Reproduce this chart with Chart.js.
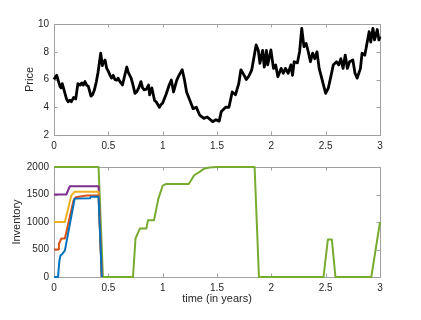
<!DOCTYPE html>
<html>
<head>
<meta charset="utf-8">
<script src="https://cdn.jsdelivr.net/npm/chart.js@4"></script>
<style>
  html, body { margin: 0; padding: 0; background: #fff; }
  #wrap { position: relative; width: 421px; height: 320px; }
  #price-wrap { position: absolute; left: 0; top: 0; width: 421px; height: 150px; }
  #inv-wrap { position: absolute; left: 0; top: 150px; width: 421px; height: 170px; }
</style>
</head>
<body>
<div id="wrap">
  <div id="price-wrap"><canvas id="price-chart" width="421" height="150"></canvas></div>
  <div id="inv-wrap"><canvas id="inv-chart" width="421" height="170"></canvas></div>
</div>
<script>
// price path (time in years, price)
var priceT = [0, 0.015, 0.025, 0.04, 0.055, 0.065, 0.076, 0.094, 0.115, 0.13, 0.145, 0.16, 0.18, 0.2, 0.22, 0.24, 0.255, 0.27, 0.285, 0.3,
    0.316, 0.34, 0.355, 0.37, 0.39, 0.405, 0.43, 0.445, 0.454, 0.47, 0.485, 0.5, 0.516, 0.53, 0.545, 0.56, 0.577, 0.59, 0.607, 0.63,
    0.654, 0.67, 0.68, 0.69, 0.71, 0.73, 0.745, 0.76, 0.78, 0.8, 0.815, 0.83, 0.85, 0.87, 0.88, 0.9, 0.925, 0.94, 0.955, 0.97,
    0.985, 1.0, 1.03, 1.06, 1.08, 1.1, 1.13, 1.15, 1.18, 1.2, 1.22, 1.25, 1.28, 1.31, 1.34, 1.38, 1.41, 1.46, 1.49, 1.52,
    1.54, 1.58, 1.61, 1.64, 1.67, 1.7, 1.72, 1.75, 1.77, 1.79, 1.82, 1.86, 1.88, 1.895, 1.92, 1.935, 1.955, 1.966, 1.996, 2.02,
    2.04, 2.06, 2.09, 2.11, 2.13, 2.155, 2.18, 2.195, 2.21, 2.24, 2.26, 2.28, 2.3, 2.32, 2.34, 2.36, 2.38, 2.4, 2.42, 2.44,
    2.46, 2.48, 2.5, 2.525, 2.55, 2.57, 2.6, 2.62, 2.64, 2.66, 2.68, 2.7, 2.72, 2.75, 2.77, 2.79, 2.82, 2.835, 2.86, 2.88,
    2.9, 2.915, 2.935, 2.95, 2.975, 2.99, 3.0];
var priceV = [6.0, 6.2, 6.3, 5.9, 5.5, 5.4, 5.7, 5.2, 4.6, 4.4, 4.5, 4.4, 4.7, 4.6, 5.7, 5.6, 5.75, 5.6, 5.85, 5.6,
    5.5, 4.8, 4.9, 5.2, 5.85, 6.5, 7.9, 7.0, 7.2, 7.4, 6.8, 6.6, 6.3, 6.1, 6.3, 6.0, 5.95, 6.1, 5.85, 5.6,
    6.4, 6.9, 6.6, 6.4, 6.1, 5.5, 5.0, 5.1, 5.4, 5.85, 5.4, 5.25, 5.3, 5.6, 4.9, 5.4, 4.5, 4.4, 4.2, 4.0,
    4.2, 4.3, 4.9, 5.6, 5.96, 5.1, 5.96, 6.3, 6.7, 6.0, 5.1, 4.5, 3.9, 4.0, 3.44, 3.2, 3.3, 2.96, 3.1, 3.0,
    3.7, 4.0, 4.0, 5.1, 4.9, 5.7, 6.7, 6.3, 6.0, 6.2, 6.7, 8.49, 8.1, 7.17, 8.1, 6.9, 8.1, 7.05, 8.13, 6.8,
    7.05, 6.2, 6.8, 6.45, 6.8, 6.45, 7.05, 6.3, 7.28, 7.2, 8.0, 9.69, 8.37, 8.6, 8.0, 7.28, 7.9, 7.5, 8.0, 6.8,
    6.2, 5.6, 5.0, 5.4, 6.3, 7.05, 7.28, 7.05, 7.5, 6.8, 7.76, 6.8, 7.28, 7.4, 6.45, 6.1, 6.8, 7.9, 7.75, 8.6,
    9.45, 8.7, 9.69, 8.85, 9.6, 8.85, 9.1];

// inventory paths, one per starting level
var blueT = [0, 0.037, 0.05, 0.06, 0.076, 0.1, 0.19, 0.33, 0.34, 0.41, 0.44];
var blueV = [0, 0, 300, 390, 420, 480, 1425, 1430, 1460, 1460, 0];
var redT = [0, 0.037, 0.045, 0.068, 0.1, 0.18, 0.2, 0.3, 0.41, 0.44];
var redV = [500, 500, 600, 700, 700, 1395, 1450, 1480, 1480, 0];
var yellowT = [0, 0.1, 0.16, 0.19, 0.41, 0.44];
var yellowV = [1000, 1000, 1485, 1550, 1550, 0];
var purpleT = [0, 0.114, 0.145, 0.41, 0.44];
var purpleV = [1500, 1500, 1650, 1650, 0];
var greenT = [0, 0.41, 0.45, 0.727, 0.75, 0.79, 0.85, 0.865, 0.92, 0.96, 1.0, 1.03, 1.24, 1.29, 1.34, 1.38, 1.43, 1.5, 1.846, 1.886,
    2.48, 2.52, 2.557, 2.59, 2.92, 3.0];
var greenV = [2000, 2000, 0, 0, 700, 880, 880, 1030, 1030, 1420, 1660, 1690, 1690, 1850, 1910, 1970, 1990, 2000, 2000, 0,
    0, 680, 680, 0, 0, 1000];

var timeTicks = [0, 0.5, 1, 1.5, 2, 2.5, 3];
var priceTicks = [2, 4, 6, 8, 10];
var invTicks = [0, 500, 1000, 1500, 2000];

var fontFamily = "'Liberation Sans', Arial, Helvetica, sans-serif";
var textColor = "#262626";

function pts(t, v) {
    return t.map(function (x, i) { return { x: x, y: v[i] }; });
}

function fixedTicks(list) {
    return function (scale) {
        scale.ticks = list.map(function (v) { return { value: v }; });
    };
}

function plainLabel(value) {
    return String(value);
}

// MATLAB-like box with inward ticks on all four sides
var boxPlugin = {
    id: "box",
    beforeDatasetsDraw: function (chart) {
        var a = chart.chartArea, ctx = chart.ctx;
        var xs = chart.scales.x, ys = chart.scales.y;
        var len = 3.5;
        ctx.save();
        ctx.strokeStyle = "#a0a0a0";
        ctx.lineWidth = 1;
        ctx.strokeRect(Math.round(a.left) + 0.5, Math.round(a.top) + 0.5, Math.round(a.right - a.left), Math.round(a.bottom - a.top));
        ctx.beginPath();
        xs.ticks.forEach(function (t) {
            var px = Math.round(xs.getPixelForValue(t.value)) + 0.5;
            ctx.moveTo(px, a.bottom); ctx.lineTo(px, a.bottom - len);
            ctx.moveTo(px, a.top); ctx.lineTo(px, a.top + len);
        });
        ys.ticks.forEach(function (t) {
            var py = Math.round(ys.getPixelForValue(t.value)) + 0.5;
            ctx.moveTo(a.left, py); ctx.lineTo(a.left + len, py);
            ctx.moveTo(a.right, py); ctx.lineTo(a.right - len, py);
        });
        ctx.stroke();
        ctx.restore();
    },
};

var tickFont = { size: 10, family: fontFamily };
var titleFont = { size: 11, family: fontFamily };

var priceChart = new Chart(document.getElementById("price-chart"), {
    type: "line",
    data: {
        datasets: [
            {
                data: pts(priceT, priceV),
                borderColor: "#000000",
                borderWidth: 2.8,
                borderJoinStyle: "round",
                pointRadius: 0,
                tension: 0,
                fill: false,
                clip: 4,
            },
        ],
    },
    options: {
        responsive: false,
        animation: false,
        events: [],
        layout: { padding: { left: 0, top: 24, right: 41, bottom: 0 } },
        plugins: { legend: { display: false }, tooltip: { enabled: false } },
        scales: {
            x: {
                type: "linear",
                min: 0,
                max: 3,
                afterBuildTicks: fixedTicks(timeTicks),
                afterFit: function (s) { s.height = 15; },
                grid: { display: false, drawTicks: false },
                border: { display: false },
                ticks: { font: tickFont, color: textColor, padding: 5, maxRotation: 0, callback: plainLabel },
            },
            y: {
                min: 2,
                max: 10,
                afterBuildTicks: fixedTicks(priceTicks),
                afterFit: function (s) { s.width = 54; },
                grid: { display: false, drawTicks: false },
                border: { display: false },
                ticks: { font: tickFont, color: textColor, padding: 5, callback: plainLabel },
                title: { display: true, text: "Price", font: titleFont, color: textColor, padding: { top: 23, bottom: 0 } },
            },
        },
    },
    plugins: [boxPlugin],
});

function invSet(t, v, color) {
    return {
        data: pts(t, v),
        borderColor: color,
        borderWidth: 2,
        borderJoinStyle: "round",
        pointRadius: 0,
        tension: 0,
        fill: false,
        clip: 4,
    };
}

var invChart = new Chart(document.getElementById("inv-chart"), {
    type: "line",
    data: {
        datasets: [
            invSet(blueT, blueV, "#0072BD"),
            invSet(redT, redV, "#D95319"),
            invSet(yellowT, yellowV, "#EDB120"),
            invSet(purpleT, purpleV, "#7E2F8E"),
            invSet(greenT, greenV, "#77AC30"),
        ],
    },
    options: {
        responsive: false,
        animation: false,
        events: [],
        layout: { padding: { left: 0, top: 17, right: 41, bottom: 10 } },
        plugins: { legend: { display: false }, tooltip: { enabled: false } },
        scales: {
            x: {
                type: "linear",
                min: 0,
                max: 3,
                afterBuildTicks: fixedTicks(timeTicks),
                afterFit: function (s) { s.height = 33; },
                grid: { display: false, drawTicks: false },
                border: { display: false },
                ticks: { font: tickFont, color: textColor, padding: 5, maxRotation: 0, callback: plainLabel },
                title: { display: true, text: "time (in years)", font: titleFont, color: textColor, padding: { top: 0, bottom: 4 } },
            },
            y: {
                min: 0,
                max: 2000,
                afterBuildTicks: fixedTicks(invTicks),
                afterFit: function (s) { s.width = 54; },
                grid: { display: false, drawTicks: false },
                border: { display: false },
                ticks: { font: tickFont, color: textColor, padding: 5, callback: plainLabel },
                title: { display: true, text: "Inventory", font: titleFont, color: textColor, padding: { top: 10, bottom: 0 } },
            },
        },
    },
    plugins: [boxPlugin],
});
</script>
</body>
</html>
